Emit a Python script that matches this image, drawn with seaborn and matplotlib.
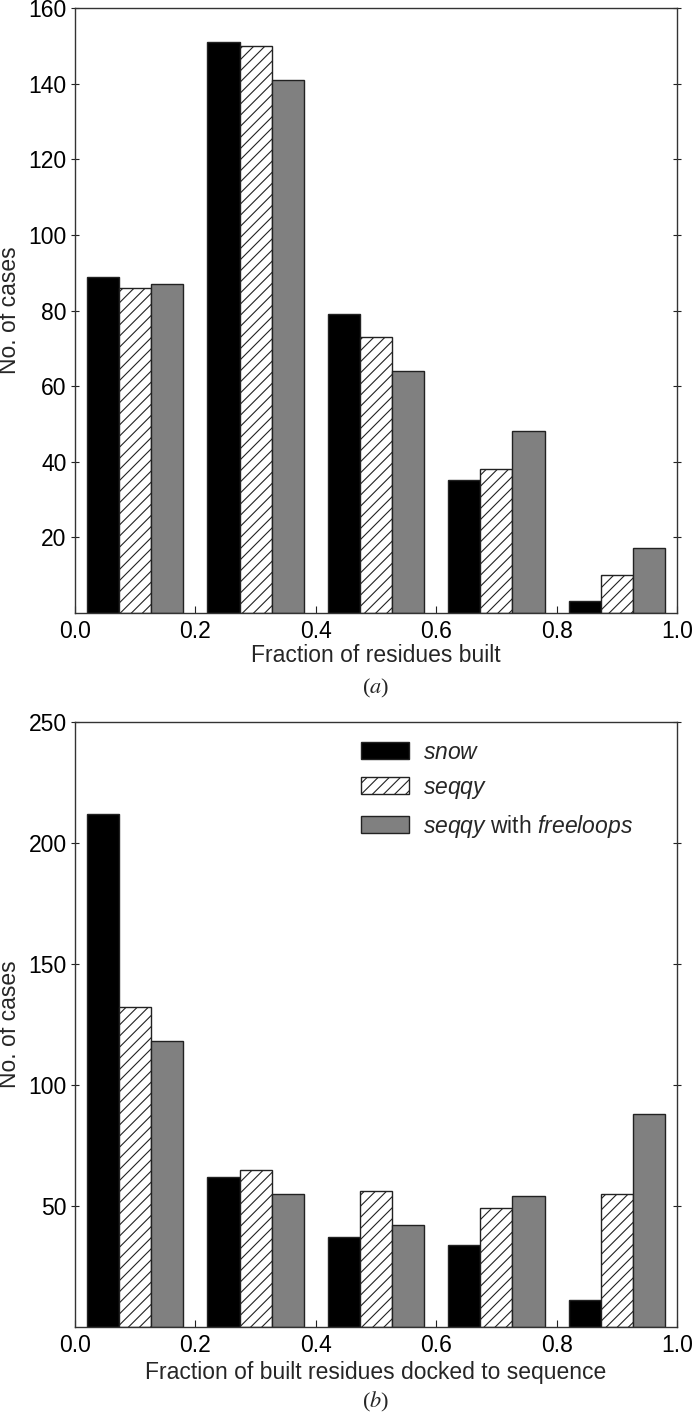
import numpy as np
import pandas as pd
import matplotlib
matplotlib.use("Agg")
import matplotlib.pyplot as plt
import seaborn as sns
from matplotlib.patches import Patch

# ---- data ----
bin_centers = [0.1, 0.3, 0.5, 0.7, 0.9]
methods = ["snow", "seqqy", "seqqy with freeloops"]

built_snow = [89, 151, 79, 35, 3]
built_seqqy = [86, 150, 73, 38, 10]
built_freeloops = [87, 141, 64, 48, 17]

docked_snow = [212, 62, 37, 34, 11]
docked_seqqy = [132, 65, 56, 49, 55]
docked_freeloops = [118, 55, 42, 54, 88]

xticks = [0.0, 0.2, 0.4, 0.6, 0.8, 1.0]
yticks_a = [20, 40, 60, 80, 100, 120, 140, 160]
yticks_b = [50, 100, 150, 200, 250]

sns.set_style("ticks")
plt.rcParams["font.family"] = ["Liberation Sans", "DejaVu Sans"]
plt.rcParams["mathtext.fontset"] = "custom"
plt.rcParams["mathtext.it"] = "Liberation Sans:italic"
plt.rcParams["mathtext.rm"] = "Liberation Sans"
plt.rcParams["hatch.linewidth"] = 0.8
plt.rcParams["hatch.color"] = "#111111"

FS = 16.5
EDGE = "#222222"
colors = {"snow": "#000000", "seqqy": "#ffffff", "seqqy with freeloops": "#808080"}


def make_df(a, b, c):
    rows = []
    for m, vals in zip(methods, [a, b, c]):
        for x, v in zip(bin_centers, vals):
            rows.append({"x": x, "method": m, "count": v})
    return pd.DataFrame(rows)


fig = plt.figure(figsize=(6.92, 14.14), dpi=100)
ax1 = fig.add_axes([0.1084, 0.5667, 0.8699, 0.4274])
ax2 = fig.add_axes([0.1084, 0.0617, 0.8699, 0.4277])


def draw(ax, df, ymax, yticks, xlabel, caption, lp, cap_y):
    sns.barplot(data=df, x="x", y="count", hue="method", hue_order=methods,
                palette=colors, native_scale=True, width=0.8, gap=0,
                edgecolor=EDGE, linewidth=1.0, saturation=1, ax=ax,
                legend=False, errorbar=None)
    for cont, m in zip(ax.containers, methods):
        for p in cont:
            p.set_facecolor(colors[m])
            p.set_edgecolor(EDGE)
            if m == "seqqy":
                p.set_hatch("///")
    ax.set_xlim(0, 1)
    ax.set_ylim(0, ymax)
    ax.set_xticks(xticks)
    ax.set_xticklabels([f"{t:.1f}" for t in xticks])
    ax.set_yticks(yticks)
    ax.set_yticklabels([str(t) for t in yticks])
    ax.tick_params(axis="x", direction="in", length=5, width=0.8, pad=5,
                   labelsize=FS, colors="#222222", labelcolor="black")
    ax.tick_params(axis="y", direction="inout", length=6, width=0.8, pad=3,
                   labelsize=FS, right=True, colors="#222222", labelcolor="black")
    for s in ax.spines.values():
        s.set_visible(True)
        s.set_linewidth(1.0)
        s.set_color("#333333")
    ax.set_xlabel(xlabel, fontsize=FS, labelpad=lp)
    ax.set_ylabel("No. of cases", fontsize=FS, labelpad=5)
    ax.text(0.5, cap_y, caption, transform=ax.transAxes, ha="center",
            va="center", fontsize=16, math_fontfamily="stix",
            family=["Liberation Serif", "DejaVu Serif"])


draw(ax1, make_df(built_snow, built_seqqy, built_freeloops), 160, yticks_a,
     "Fraction of residues built", r"($\mathit{a}$)", 1, -0.126)
draw(ax2, make_df(docked_snow, docked_seqqy, docked_freeloops), 250, yticks_b,
     "Fraction of built residues docked to sequence", r"($\mathit{b}$)", 3, -0.124)

handles = [
    Patch(facecolor=colors["snow"], edgecolor=EDGE, linewidth=1.0),
    Patch(facecolor=colors["seqqy"], edgecolor=EDGE, linewidth=1.0, hatch="///"),
    Patch(facecolor=colors["seqqy with freeloops"], edgecolor=EDGE, linewidth=1.0),
]
labels = [r"$\mathit{snow}$", r"$\mathit{seqqy}$",
          r"$\mathit{seqqy}$ with $\mathit{freeloops}$"]
ax2.legend(handles, labels, loc="upper left", bbox_to_anchor=(0.475, 0.969),
           frameon=False, fontsize=FS, handlelength=2.1, handleheight=0.79,
           labelspacing=0.52, handletextpad=0.6, borderpad=0.0,
           borderaxespad=0.0)

fig.savefig("out.png", dpi=100)
